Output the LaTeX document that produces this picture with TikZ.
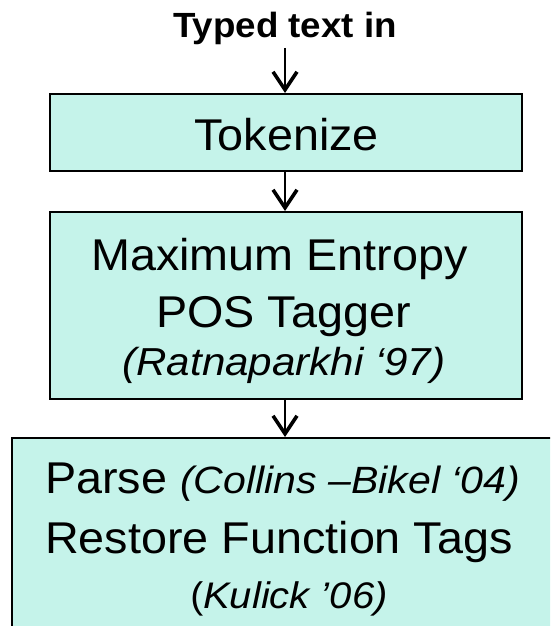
\documentclass[tikz,border=0pt]{standalone}
\usepackage{fontspec}
\setmainfont{Liberation Sans}[FakeStretch=1.05]
\newfontfamily\citefont{Liberation Sans}[FakeStretch=1.08]
\usetikzlibrary{arrows.meta}

\definecolor{boxfill}{HTML}{C5F3EA}

\tikzset{
  stage/.style={draw=black, line width=2.4pt, fill=boxfill, rectangle,
                inner sep=0pt, anchor=north west},
  flow/.style={line width=1.2pt,
               -{Straight Barb[length=18pt,width=24pt,line width=3.6pt]}},
  txt/.style={inner sep=0pt, anchor=base, font=\fontsize{44.5}{44.5}\selectfont},
  cite/.style={inner sep=0pt, anchor=base, font=\fontsize{39}{39}\selectfont\citefont\itshape},
}

\begin{document}
\begin{tikzpicture}[x=1pt, y=-1pt]
  \useasboundingbox (0,0) rectangle (550,626);

  % input label
  \node[inner sep=0pt, anchor=base, font=\fontsize{35}{35}\selectfont\bfseries]
    (input) at (285,37.5) {Typed text in};
  \coordinate (inbot) at (285,48);

  % processing stages
  \node[stage, minimum width=472pt, minimum height=77pt] (tok) at (49,93) {};
  \node[stage, minimum width=472pt, minimum height=187pt] (pos) at (49,211) {};
  \begin{scope}
    \clip (0,0) rectangle (550,626);
    \node[stage, minimum width=560pt, minimum height=220pt] (parse) at (11,437) {};
  \end{scope}

  % stage texts
  \node[txt] (toktxt) at (286.5,150.5) {Tokenize};
  \node[txt] (pos1) at (279.5,270) {Maximum Entropy};
  \node[txt] (pos2) at (283.5,327.5) {POS Tagger};
  \node[cite] (pos3) at (284,375.5) {(Ratnaparkhi ‘97)};
  \node[txt, anchor=base west] (par1) at (45,493.5)
    {Parse {\fontsize{38}{38}\selectfont\citefont\itshape(Collins –Bikel ‘04)}};
  \node[txt] (par2) at (279,553.5) {Restore Function Tags};
  \node[txt, font=\fontsize{37}{37}\selectfont] (par3) at (289,608.5)
    {({\citefont\itshape Kulick ’06)}};

  % connectors
  \draw[flow] (inbot) -- (tok.north -| inbot);
  \draw[flow] (tok.south -| inbot) -- (pos.north -| inbot);
  \draw[flow] (pos.south -| inbot) -- (parse.north -| inbot);
\end{tikzpicture}
\end{document}
